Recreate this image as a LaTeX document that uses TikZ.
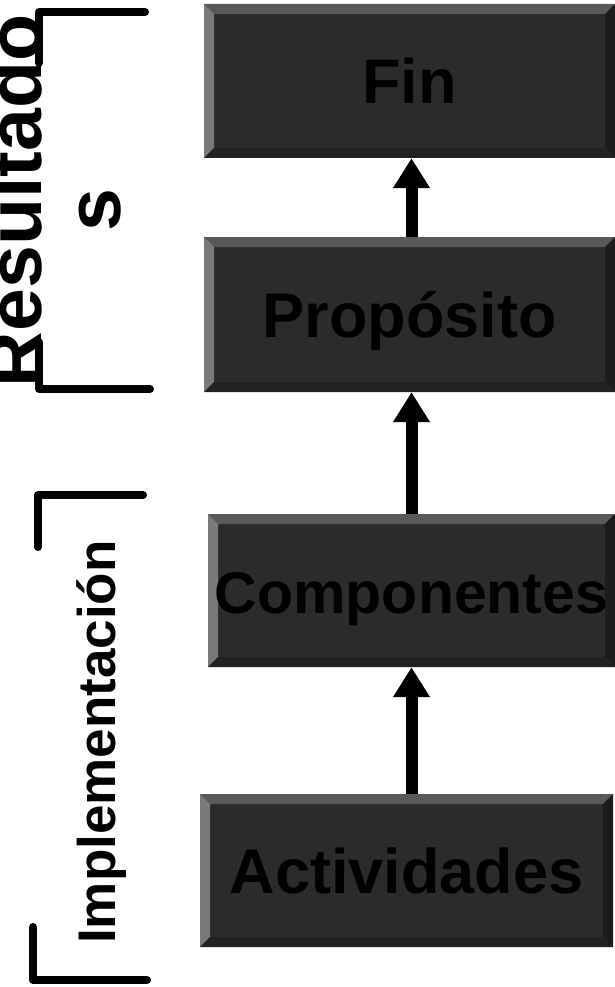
\documentclass[tikz,border=0pt]{standalone}
\usepackage{fontspec}
\setmainfont{Liberation Sans}
\usetikzlibrary{arrows.meta}

\definecolor{boxface}{HTML}{2B2B2B}
\definecolor{beveltop}{HTML}{595959}
\definecolor{bevelleft}{HTML}{7A7A7A}
\definecolor{bevelright}{HTML}{1C1C1C}
\definecolor{bevelbottom}{HTML}{222222}

\tikzset{
  bevelbox/.style={fill=boxface, inner sep=0pt, minimum width=411pt, minimum height=155pt,
    text height=45pt, text depth=0pt, font=\fontsize{63}{70}\selectfont\bfseries,
    path picture={
      \fill[beveltop] (path picture bounding box.north west) -- (path picture bounding box.north east)
        -- ([shift={(-10pt,-10pt)}]path picture bounding box.north east)
        -- ([shift={(10pt,-10pt)}]path picture bounding box.north west) -- cycle;
      \fill[bevelleft] (path picture bounding box.north west) -- (path picture bounding box.south west)
        -- ([shift={(10pt,10pt)}]path picture bounding box.south west)
        -- ([shift={(10pt,-10pt)}]path picture bounding box.north west) -- cycle;
      \fill[bevelright] (path picture bounding box.north east) -- (path picture bounding box.south east)
        -- ([shift={(-10pt,10pt)}]path picture bounding box.south east)
        -- ([shift={(-10pt,-10pt)}]path picture bounding box.north east) -- cycle;
      \fill[bevelbottom] (path picture bounding box.south west) -- (path picture bounding box.south east)
        -- ([shift={(-10pt,10pt)}]path picture bounding box.south east)
        -- ([shift={(10pt,10pt)}]path picture bounding box.south west) -- cycle;
    }},
  uparrow/.style={line width=12pt, -{Triangle[width=35pt,length=30pt]}},
  bracket/.style={line width=8pt, line cap=round, line join=round},
  sidetext/.style={rotate=90, anchor=base, inner sep=0pt, font=\fontsize{77}{80}\selectfont\bfseries}
}

\begin{document}
\begin{tikzpicture}[x=1pt, y=-1pt]
  \useasboundingbox (0,0) rectangle (615,987);

  % boxes
  \node[bevelbox, minimum height=154pt] (fin) at (409.5,81) {Fin};
  \node[bevelbox] (prop) at (409.5,314.5) {Propósito};
  \node[bevelbox, minimum width=407pt, minimum height=153pt, font=\fontsize{59}{66}\selectfont\bfseries] (comp) at (411.5,590.5) {Componentes};
  \node[bevelbox, minimum width=413pt, minimum height=153pt] (act) at (406.5,870.5) {Actividades};

  % arrows
  \draw[uparrow] (prop.north -| comp.north) -- (fin.south -| comp.north);
  \draw[uparrow] (comp.north) -- (comp.north |- prop.south);
  \draw[uparrow] (act.north -| comp.south) -- (comp.south);

  % brackets
  \draw[bracket] (145,12) -- (39,12) -- (39,63);
  \draw[bracket] (39,342) -- (39,389) -- (150,389);
  \draw[bracket] (143,495) -- (38,495) -- (38,547);
  \draw[bracket] (33,927) -- (33,980) -- (147,980);

  % side labels
  \node[sidetext] (res) at (41,201) {Resultado};
  \node[sidetext] (ress) at (120,210) {s};
  \node[sidetext, font=\fontsize{53}{58}\selectfont\bfseries] (impl) at (115,742) {Implementación};
\end{tikzpicture}
\end{document}
